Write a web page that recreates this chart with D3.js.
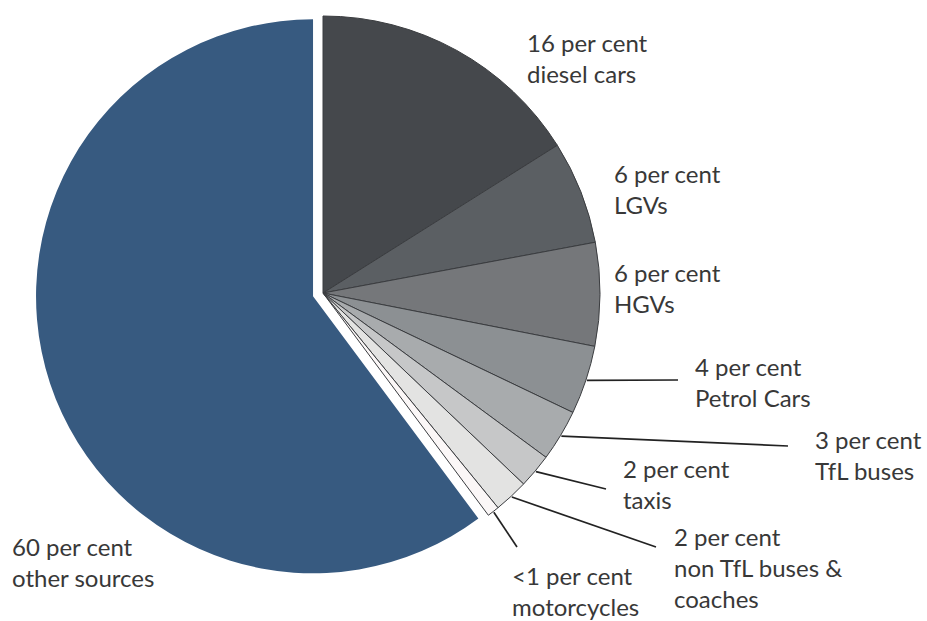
<!DOCTYPE html>
<html>
<head>
<meta charset="utf-8">
<script src="https://d3js.org/d3.v7.min.js"></script>
<style>
  html, body { margin: 0; padding: 0; background: #fff; }
  text { font-family: Lato, "Open Sans", sans-serif; fill: #383838; }
</style>
</head>
<body>
<div id="graph-area"></div>
<script>
  // emission sources, clockwise from 12 o'clock
  const categories = ["diesel", "lgv", "hgv", "petrol", "tflbus", "taxi", "nontfl", "moto", "other"];
  const values = [16, 6, 6, 4, 3, 2, 2, 0.7, 60];
  const shareLabels = ["16 per cent", "6 per cent", "6 per cent", "4 per cent", "3 per cent",
                       "2 per cent", "2 per cent", "<1 per cent", "60 per cent"];
  const nameLabels = [["diesel cars"], ["LGVs"], ["HGVs"], ["Petrol Cars"], ["TfL buses"],
                      ["taxis"], ["non TfL buses &", "coaches"], ["motorcycles"], ["other sources"]];

  const palette = ["#45484c", "#5b5f63", "#75777a", "#8c9093", "#a8abad",
                   "#c6c7c8", "#e3e3e2", "#fbf7f7", "#375a80"];

  const w = 927;
  const h = 621;
  const cx = 323, cy = 293;
  const radius = 277;
  const explode = 10.5;
  const lineGap = 31;

  // text placement (left x, first baseline) and leader line ends, relative to svg
  const labelPos = {
    diesel: { x: 527, y: 52 },
    lgv:    { x: 614, y: 183 },
    hgv:    { x: 614, y: 282 },
    petrol: { x: 695, y: 376, lx: 678, ly: 380 },
    tflbus: { x: 815, y: 449, lx: 788, ly: 446 },
    taxi:   { x: 623, y: 478, lx: 606, ly: 489 },
    nontfl: { x: 674, y: 546, lx: 656, ly: 547 },
    moto:   { x: 512, y: 585, lx: 517, ly: 547 },
    other:  { x: 12,  y: 556 }
  };

  const color = d3.scaleOrdinal().domain(categories).range(palette);

  const pie = d3.pie().sort(null).value((d) => d.value);
  const arcs = pie(categories.map((c, i) => ({ key: c, value: values[i], i: i })));

  const arc = d3.arc().innerRadius(0).outerRadius(radius);

  const svg = d3.select("#graph-area").append("svg")
                .attr("width", w)
                .attr("height", h);

  const g = svg.append("g").attr("transform", "translate(" + cx + "," + cy + ")");

  g.selectAll("path")
   .data(arcs)
   .enter()
   .append("path")
   .attr("d", arc)
   .attr("transform", function(d) {
     if (d.data.key !== "other") return null;
     const mid = (d.startAngle + d.endAngle) / 2;
     return "translate(" + (Math.sin(mid) * explode) + "," + (-Math.cos(mid) * explode) + ")";
   })
   .attr("fill", (d) => color(d.data.key))
   .attr("stroke", (d) => d.data.key === "other" ? "none" : "#3b3d40")
   .attr("stroke-width", 1)
   .attr("stroke-linejoin", "round");

  // leader lines, from the slice's outer edge
  const withLine = arcs.filter((d) => labelPos[d.data.key].lx !== undefined);
  const edge = d3.arc().innerRadius(radius + 1).outerRadius(radius + 1);

  svg.selectAll("line.leader")
     .data(withLine)
     .enter()
     .append("line")
     .attr("class", "leader")
     .attr("x1", (d) => cx + edge.centroid(d)[0])
     .attr("y1", (d) => cy + edge.centroid(d)[1])
     .attr("x2", (d) => labelPos[d.data.key].lx)
     .attr("y2", (d) => labelPos[d.data.key].ly)
     .attr("stroke", "#222")
     .attr("stroke-width", 1.7);

  // labels
  const labels = svg.selectAll("text.label")
     .data(arcs)
     .enter()
     .append("text")
     .attr("class", "label")
     .attr("x", (d) => labelPos[d.data.key].x)
     .attr("y", (d) => labelPos[d.data.key].y)
     .style("font-size", "24px");

  labels.append("tspan")
     .attr("x", (d) => labelPos[d.data.key].x)
     .text((d) => shareLabels[d.data.i]);

  labels.each(function(d) {
    const t = d3.select(this);
    nameLabels[d.data.i].forEach(function(line) {
      t.append("tspan")
       .attr("x", labelPos[d.data.key].x)
       .attr("dy", lineGap)
       .text(line);
    });
  });
</script>
</body>
</html>
